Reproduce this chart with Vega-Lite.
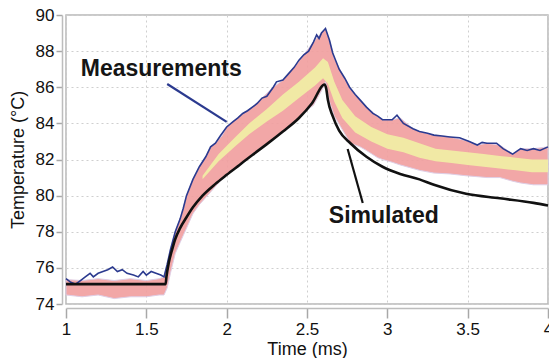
{
  "$schema": "https://vega.github.io/schema/vega-lite/v6.json",
  "width": 482,
  "height": 289,
  "autosize": {"type": "none"},
  "padding": {"left": 66, "top": 15, "right": 1, "bottom": 54},
  "background": "white",
  "config": {
    "view": {"stroke": "#b8b8b8", "strokeWidth": 1.5},
    "axis": {
      "labelFont": "Liberation Sans",
      "labelFontSize": 17,
      "labelColor": "#111111",
      "labelOverlap": false,
      "titleFont": "Liberation Sans",
      "titleFontSize": 18,
      "titleFontWeight": "normal",
      "titleColor": "#111111",
      "gridColor": "#cfcfcf",
      "gridDash": [2, 3],
      "gridWidth": 1,
      "domainColor": "#bdbdbd",
      "domainWidth": 1.5,
      "tickColor": "#a8a8a8",
      "tickWidth": 1.5
    },
    "axisY": {"labelOverlap": false, "tickCount": 9}
  },
  "datasets": {
    "band": [
      {"t": 1.00, "lo": 74.5, "hi": 75.35},
      {"t": 1.10, "lo": 74.4, "hi": 75.3},
      {"t": 1.20, "lo": 74.5, "hi": 75.4},
      {"t": 1.30, "lo": 74.3, "hi": 75.3},
      {"t": 1.40, "lo": 74.4, "hi": 75.4},
      {"t": 1.50, "lo": 74.4, "hi": 75.3},
      {"t": 1.58, "lo": 74.5, "hi": 75.4},
      {"t": 1.61, "lo": 74.5, "hi": 75.5},
      {"t": 1.63, "lo": 74.9, "hi": 76.2},
      {"t": 1.65, "lo": 75.7, "hi": 77.0},
      {"t": 1.68, "lo": 76.8, "hi": 78.0},
      {"t": 1.71, "lo": 77.4, "hi": 78.7},
      {"t": 1.73, "lo": 77.8, "hi": 79.3},
      {"t": 1.75, "lo": 78.2, "hi": 80.0},
      {"t": 1.79, "lo": 79.0, "hi": 80.9},
      {"t": 1.83, "lo": 79.5, "hi": 81.6},
      {"t": 1.87, "lo": 79.9, "hi": 82.15},
      {"t": 1.90, "lo": 80.2, "hi": 82.7},
      {"t": 1.93, "lo": 80.5, "hi": 82.9},
      {"t": 1.97, "lo": 80.9, "hi": 83.3},
      {"t": 2.00, "lo": 81.1, "hi": 83.8},
      {"t": 2.04, "lo": 81.4, "hi": 84.1},
      {"t": 2.10, "lo": 81.8, "hi": 84.55},
      {"t": 2.16, "lo": 82.3, "hi": 84.9},
      {"t": 2.22, "lo": 82.7, "hi": 85.4},
      {"t": 2.29, "lo": 83.1, "hi": 86.0},
      {"t": 2.35, "lo": 83.5, "hi": 86.4},
      {"t": 2.42, "lo": 84.1, "hi": 87.1},
      {"t": 2.48, "lo": 84.6, "hi": 87.8},
      {"t": 2.54, "lo": 85.0, "hi": 88.5},
      {"t": 2.59, "lo": 85.8, "hi": 89.0},
      {"t": 2.615, "lo": 86.3, "hi": 89.25},
      {"t": 2.64, "lo": 85.2, "hi": 88.6},
      {"t": 2.67, "lo": 84.4, "hi": 87.6},
      {"t": 2.71, "lo": 83.8, "hi": 86.9},
      {"t": 2.77, "lo": 82.9, "hi": 85.9},
      {"t": 2.83, "lo": 82.7, "hi": 85.3},
      {"t": 2.87, "lo": 82.5, "hi": 84.9},
      {"t": 2.94, "lo": 82.1, "hi": 84.4},
      {"t": 2.97, "lo": 82.0, "hi": 84.2},
      {"t": 3.03, "lo": 81.85, "hi": 84.2},
      {"t": 3.08, "lo": 81.7, "hi": 84.3},
      {"t": 3.16, "lo": 81.5, "hi": 83.7},
      {"t": 3.20, "lo": 81.4, "hi": 83.55},
      {"t": 3.29, "lo": 81.25, "hi": 83.35},
      {"t": 3.39, "lo": 81.2, "hi": 83.25},
      {"t": 3.49, "lo": 81.1, "hi": 83.05},
      {"t": 3.56, "lo": 81.05, "hi": 82.8},
      {"t": 3.62, "lo": 81.0, "hi": 82.9},
      {"t": 3.70, "lo": 81.0, "hi": 82.8},
      {"t": 3.78, "lo": 80.8, "hi": 82.3},
      {"t": 3.83, "lo": 80.7, "hi": 82.6},
      {"t": 3.91, "lo": 80.6, "hi": 82.6},
      {"t": 4.00, "lo": 80.6, "hi": 82.7}
    ],
    "yellow": [
      {"t": 1.85, "ylo": 80.9, "yhi": 81.1},
      {"t": 1.95, "ylo": 81.9, "yhi": 82.3},
      {"t": 2.05, "ylo": 82.7, "yhi": 83.2},
      {"t": 2.14, "ylo": 83.4, "yhi": 84.0},
      {"t": 2.25, "ylo": 84.1, "yhi": 84.8},
      {"t": 2.35, "ylo": 84.7, "yhi": 85.6},
      {"t": 2.45, "ylo": 85.4, "yhi": 86.3},
      {"t": 2.55, "ylo": 86.1, "yhi": 87.1},
      {"t": 2.60, "ylo": 86.5, "yhi": 87.6},
      {"t": 2.63, "ylo": 86.2, "yhi": 87.4},
      {"t": 2.67, "ylo": 85.2, "yhi": 86.3},
      {"t": 2.72, "ylo": 84.3, "yhi": 85.3},
      {"t": 2.80, "ylo": 83.5, "yhi": 84.4},
      {"t": 2.90, "ylo": 83.0, "yhi": 83.8},
      {"t": 3.00, "ylo": 82.6, "yhi": 83.4},
      {"t": 3.10, "ylo": 82.4, "yhi": 83.2},
      {"t": 3.20, "ylo": 82.1, "yhi": 82.9},
      {"t": 3.30, "ylo": 81.9, "yhi": 82.6},
      {"t": 3.40, "ylo": 81.8, "yhi": 82.5},
      {"t": 3.50, "ylo": 81.7, "yhi": 82.4},
      {"t": 3.60, "ylo": 81.6, "yhi": 82.3},
      {"t": 3.70, "ylo": 81.5, "yhi": 82.2},
      {"t": 3.80, "ylo": 81.4, "yhi": 82.1},
      {"t": 3.90, "ylo": 81.3, "yhi": 82.0},
      {"t": 4.00, "ylo": 81.3, "yhi": 82.0}
    ],
    "blue": [
      {"t": 1.00, "T": 75.4}, {"t": 1.03, "T": 75.2}, {"t": 1.06, "T": 75.1},
      {"t": 1.09, "T": 75.3}, {"t": 1.12, "T": 75.5}, {"t": 1.15, "T": 75.7},
      {"t": 1.17, "T": 75.5}, {"t": 1.20, "T": 75.7}, {"t": 1.23, "T": 75.8},
      {"t": 1.26, "T": 75.9}, {"t": 1.29, "T": 76.05}, {"t": 1.32, "T": 75.8},
      {"t": 1.35, "T": 75.9}, {"t": 1.38, "T": 75.7}, {"t": 1.42, "T": 75.6},
      {"t": 1.45, "T": 75.5}, {"t": 1.48, "T": 75.8}, {"t": 1.50, "T": 75.6},
      {"t": 1.53, "T": 75.8}, {"t": 1.56, "T": 75.7}, {"t": 1.59, "T": 75.6},
      {"t": 1.61, "T": 75.5}, {"t": 1.63, "T": 76.2}, {"t": 1.65, "T": 77.0},
      {"t": 1.68, "T": 78.0}, {"t": 1.71, "T": 78.7}, {"t": 1.73, "T": 79.3},
      {"t": 1.75, "T": 80.0}, {"t": 1.79, "T": 80.9}, {"t": 1.83, "T": 81.6},
      {"t": 1.87, "T": 82.15}, {"t": 1.90, "T": 82.7}, {"t": 1.93, "T": 82.9},
      {"t": 1.96, "T": 83.3}, {"t": 2.00, "T": 83.8}, {"t": 2.04, "T": 84.1},
      {"t": 2.07, "T": 84.3}, {"t": 2.10, "T": 84.55}, {"t": 2.13, "T": 84.7},
      {"t": 2.16, "T": 84.9}, {"t": 2.19, "T": 85.1}, {"t": 2.22, "T": 85.4},
      {"t": 2.25, "T": 85.5}, {"t": 2.29, "T": 86.0}, {"t": 2.31, "T": 86.3},
      {"t": 2.35, "T": 86.4}, {"t": 2.38, "T": 86.7}, {"t": 2.42, "T": 87.1},
      {"t": 2.45, "T": 87.5}, {"t": 2.48, "T": 87.8}, {"t": 2.51, "T": 88.0},
      {"t": 2.54, "T": 88.5}, {"t": 2.56, "T": 88.9}, {"t": 2.575, "T": 88.7},
      {"t": 2.59, "T": 89.0}, {"t": 2.615, "T": 89.25}, {"t": 2.64, "T": 88.6},
      {"t": 2.66, "T": 87.9}, {"t": 2.70, "T": 87.0}, {"t": 2.735, "T": 86.5},
      {"t": 2.765, "T": 86.0}, {"t": 2.80, "T": 85.6}, {"t": 2.83, "T": 85.3},
      {"t": 2.87, "T": 84.9}, {"t": 2.91, "T": 84.55}, {"t": 2.94, "T": 84.4},
      {"t": 2.97, "T": 84.2}, {"t": 3.03, "T": 84.2}, {"t": 3.06, "T": 84.45},
      {"t": 3.10, "T": 84.0}, {"t": 3.16, "T": 83.7}, {"t": 3.20, "T": 83.55},
      {"t": 3.25, "T": 83.45}, {"t": 3.29, "T": 83.35}, {"t": 3.34, "T": 83.3},
      {"t": 3.39, "T": 83.25}, {"t": 3.45, "T": 83.2}, {"t": 3.51, "T": 83.0},
      {"t": 3.56, "T": 82.8}, {"t": 3.59, "T": 82.95}, {"t": 3.62, "T": 82.9},
      {"t": 3.68, "T": 82.9}, {"t": 3.72, "T": 82.6}, {"t": 3.78, "T": 82.3},
      {"t": 3.83, "T": 82.6}, {"t": 3.87, "T": 82.5}, {"t": 3.91, "T": 82.6},
      {"t": 3.95, "T": 82.5}, {"t": 4.00, "T": 82.7}
    ],
    "sim": [
      {"t": 1.00, "T": 75.1}, {"t": 1.62, "T": 75.1}, {"t": 1.625, "T": 75.5},
      {"t": 1.64, "T": 76.3}, {"t": 1.66, "T": 77.0}, {"t": 1.68, "T": 77.6},
      {"t": 1.71, "T": 78.2}, {"t": 1.75, "T": 78.8}, {"t": 1.79, "T": 79.35},
      {"t": 1.85, "T": 80.0}, {"t": 1.93, "T": 80.65}, {"t": 2.00, "T": 81.15},
      {"t": 2.08, "T": 81.7}, {"t": 2.16, "T": 82.25}, {"t": 2.25, "T": 82.85},
      {"t": 2.35, "T": 83.55}, {"t": 2.45, "T": 84.3}, {"t": 2.53, "T": 85.1},
      {"t": 2.61, "T": 86.15}, {"t": 2.62, "T": 85.9}, {"t": 2.63, "T": 85.3},
      {"t": 2.66, "T": 84.4}, {"t": 2.70, "T": 83.6}, {"t": 2.77, "T": 82.9},
      {"t": 2.87, "T": 82.15}, {"t": 2.97, "T": 81.6}, {"t": 3.08, "T": 81.2},
      {"t": 3.20, "T": 80.9}, {"t": 3.29, "T": 80.6}, {"t": 3.49, "T": 80.1},
      {"t": 3.70, "T": 79.85}, {"t": 3.91, "T": 79.6}, {"t": 4.00, "T": 79.45}
    ],
    "pointers": [
      {"t": 1.63, "T": 86.18, "t2": 2.0, "T2": 84.08, "kind": "meas"},
      {"t": 2.753, "T": 82.58, "t2": 2.847, "T2": 79.59, "kind": "sim"}
    ],
    "labels": [
      {"t": 1.593, "T": 86.62, "label": "Measurements"},
      {"t": 2.978, "T": 78.49, "label": "Simulated"}
    ]
  },
  "layer": [
    {
      "data": {"name": "band"},
      "mark": {"type": "area", "color": "#f1a0a0", "opacity": 0.92, "stroke": "#dccbe4", "strokeWidth": 1},
      "encoding": {
        "x": {
          "field": "t", "type": "quantitative",
          "scale": {"domain": [1, 4], "nice": false, "zero": false},
          "axis": {
            "title": "Time (ms)",
            "values": [1, 1.5, 2, 2.5, 3, 3.5, 4],
            "format": "~g",
            "offset": 4,
            "tickSize": 10,
            "labelPadding": 3,
            "titlePadding": 3,
            "labelFlush": false,
            "labelOverlap": false
          }
        },
        "y": {
          "field": "lo", "type": "quantitative",
          "scale": {"domain": [74, 90], "nice": false, "zero": false},
          "axis": {
            "title": "Temperature (°C)",
            "values": [74, 76, 78, 80, 82, 84, 86, 88, 90],
            "offset": 4,
            "tickSize": 6,
            "labelPadding": 2,
            "titlePadding": 8,
            "labelFlush": false,
            "labelOverlap": false
          }
        },
        "y2": {"field": "hi"}
      }
    },
    {
      "data": {"name": "yellow"},
      "mark": {"type": "area", "color": "#f1f4a4", "opacity": 0.85},
      "encoding": {
        "x": {"field": "t", "type": "quantitative"},
        "y": {"field": "ylo", "type": "quantitative"},
        "y2": {"field": "yhi"}
      }
    },
    {
      "data": {"name": "blue"},
      "mark": {"type": "line", "color": "#2b3a8f", "strokeWidth": 1.6},
      "encoding": {
        "x": {"field": "t", "type": "quantitative"},
        "y": {"field": "T", "type": "quantitative"}
      }
    },
    {
      "data": {"name": "sim"},
      "mark": {"type": "line", "color": "#111111", "strokeWidth": 2.6, "interpolate": "monotone"},
      "encoding": {
        "x": {"field": "t", "type": "quantitative"},
        "y": {"field": "T", "type": "quantitative"}
      }
    },
    {
      "data": {"name": "pointers"},
      "mark": {"type": "rule", "strokeWidth": 2.2},
      "encoding": {
        "x": {"field": "t", "type": "quantitative"},
        "y": {"field": "T", "type": "quantitative"},
        "x2": {"field": "t2"},
        "y2": {"field": "T2"},
        "color": {"field": "kind", "type": "nominal", "scale": {"domain": ["meas", "sim"], "range": ["#2b3a8f", "#111111"]}, "legend": null}
      }
    },
    {
      "data": {"name": "labels"},
      "mark": {"type": "text", "font": "Liberation Sans", "fontSize": 23, "fontWeight": "bold", "align": "center", "baseline": "alphabetic", "color": "#151515"},
      "encoding": {
        "x": {"field": "t", "type": "quantitative"},
        "y": {"field": "T", "type": "quantitative"},
        "text": {"field": "label"}
      }
    }
  ]
}
